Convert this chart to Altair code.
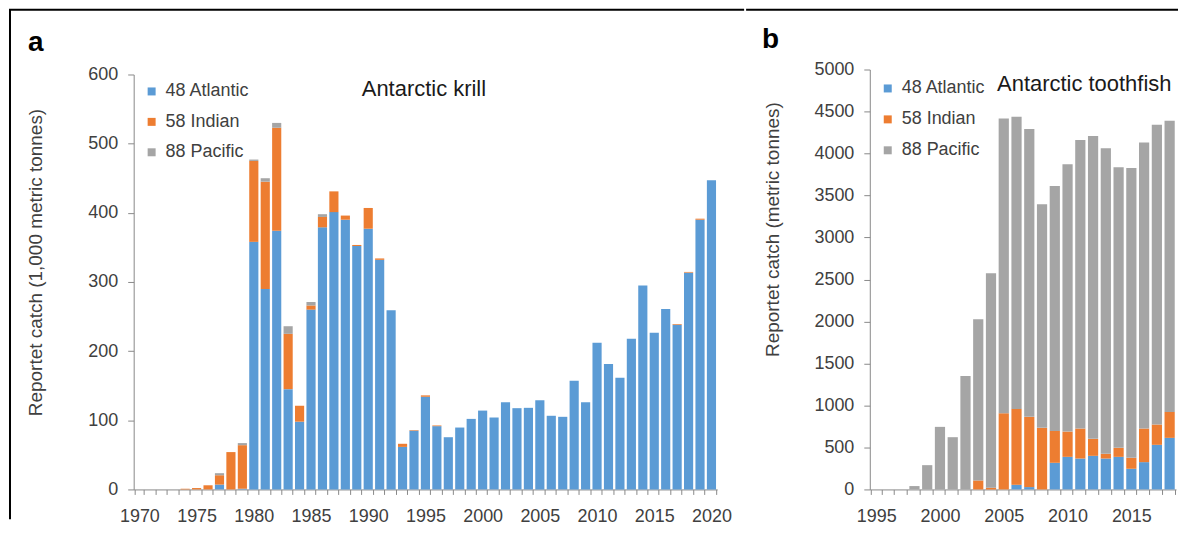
import altair as alt
import pandas as pd

series = ["48 Atlantic", "58 Indian", "88 Pacific"]
colors = ["#5B9BD5", "#ED7D31", "#A5A5A5"]

# Panel a: Antarctic krill (1,000 metric tonnes)
years_a = list(range(1970, 2021))
krill_atl = [0, 0, 0, 0, 0, 0, 0, 7, 0, 1,
             358, 290, 374, 145, 98, 260, 379, 401, 390, 352,
             377, 332, 259, 61.5, 85, 134, 91.5, 75.5, 89.5, 102,
             114, 104, 126, 117.5, 118, 129, 106.5, 105, 157, 126,
             212, 181.5, 161.5, 218, 295, 226.5, 261, 238, 313.5, 390,
             447]
krill_ind = [0, 0, 0, 0, 1, 2, 6, 13.5, 54, 63,
             117, 155, 149, 80, 23, 6, 15, 30, 6, 1.5,
             30, 2, 0, 4.5, 0.8, 2, 1, 0, 0, 0,
             0, 0, 0, 0, 0, 0, 0, 0, 0, 0,
             0, 0, 0, 0, 0, 0, 0, 1, 1, 1.5,
             0]
krill_pac = [0, 0, 0, 0, 0, 0, 0, 3, 0, 3,
             2, 5, 7, 11, 0, 5, 4, 0, 0, 0,
             0, 0, 0, 0, 0, 0, 0, 0, 0, 0,
             0, 0, 0, 0, 0, 0, 0, 0, 0, 0,
             0, 0, 0, 0, 0, 0, 0, 0, 0, 0,
             0]

# Panel b: Antarctic toothfish (metric tonnes)
years_b = list(range(1995, 2019))
tooth_atl = [0, 0, 0, 0, 0, 0, 0, 0, 0, 0,
             0, 55, 28, 0, 317, 388, 368, 400, 368, 388,
             246, 325, 531, 614]
tooth_ind = [0, 0, 0, 0, 0, 0, 0, 0, 107, 20,
             907, 904, 836, 733, 380, 301, 357, 202, 56, 107,
             130, 400, 242, 309]
tooth_pac = [0, 0, 0, 40, 289, 745, 622, 1351, 1918, 2555,
             3511, 3478, 3427, 2662, 2916, 3182, 3435, 3606, 3637, 3340,
             3451, 3407, 3569, 3467]

FONT = "Liberation Sans"
LABEL_COLOR = "#404040"
AXIS_COLOR = "#898989"


def long_table(years, cols):
    rows = []
    for i, y in enumerate(years):
        for k, (name, vals) in enumerate(zip(series, cols)):
            rows.append({"year": y, "region": name, "ord": k, "value": vals[i]})
    return pd.DataFrame(rows)


def panel(df, ymax, ystep, width, height, top_gap, ytitle, title_pos, legend_pos,
          row_pad, name, name_pos, title_text, text_pos, frame):
    bars = alt.Chart(df).mark_bar().encode(
        x=alt.X("year:O",
                scale=alt.Scale(paddingInner=0.2, paddingOuter=0.1),
                axis=alt.Axis(title=None, labelAngle=0,
                              labelExpr="datum.value % 5 == 0 ? datum.label : ''",
                              labelOverlap=False, tickBand="extent",
                              tickSize=5, labelPadding=13, labelFontSize=18,
                              labelColor=LABEL_COLOR, domainColor=AXIS_COLOR,
                              tickColor=AXIS_COLOR, labelFont=FONT)),
        y=alt.Y("value:Q", stack="zero",
                scale=alt.Scale(domain=[0, ymax], nice=False,
                                range=[height, top_gap]),
                axis=alt.Axis(values=list(range(0, ymax + 1, ystep)), grid=False,
                              format="d",
                              title=ytitle, titleX=title_pos[0], titleY=title_pos[1],
                              titleAngle=270, titleAlign="center",
                              titleBaseline="middle", titleFontSize=19,
                              titleFontWeight="normal", titleColor=LABEL_COLOR,
                              titleFont=FONT,
                              tickSize=6, labelPadding=10, labelFontSize=18,
                              labelColor=LABEL_COLOR, domainColor=AXIS_COLOR,
                              tickColor=AXIS_COLOR, labelFont=FONT)),
        color=alt.Color("region:N",
                        scale=alt.Scale(domain=series, range=colors),
                        legend=alt.Legend(title=None, orient="none",
                                          legendX=legend_pos[0], legendY=legend_pos[1],
                                          symbolType="square", symbolSize=64,
                                          symbolStrokeWidth=0,
                                          labelFontSize=18, labelColor=LABEL_COLOR,
                                          labelFont=FONT, rowPadding=row_pad,
                                          labelOffset=5, padding=0)),
        order=alt.Order("ord:Q", sort="ascending"),
    )
    one = pd.DataFrame({"t": [title_text]})
    title = alt.Chart(one).mark_text(
        font=FONT, fontSize=22, color="#1a1a1a", align="center", baseline="alphabetic"
    ).encode(text="t:N", x=alt.value(text_pos[0]), y=alt.value(text_pos[1]))
    lab = alt.Chart(pd.DataFrame({"t": [name]})).mark_text(
        font=FONT, fontSize=28, fontWeight="bold", color="#000000",
        align="left", baseline="alphabetic"
    ).encode(text="t:N", x=alt.value(name_pos[0]), y=alt.value(name_pos[1]))
    layers = [bars, title, lab]
    for (x1, x2, y1, y2) in frame:
        if y1 == y2:
            r = alt.Chart(one).mark_rule(color="#000000", strokeWidth=2).encode(
                x=alt.value(x1), x2=alt.value(x2), y=alt.value(y1))
        else:
            r = alt.Chart(one).mark_rule(color="#000000", strokeWidth=2).encode(
                x=alt.value(x1), y=alt.value(y1), y2=alt.value(y2))
        layers.append(r)
    return alt.layer(*layers).properties(width=width, height=height)


df_a = long_table(years_a, [krill_atl, krill_ind, krill_pac])
df_b = long_table(years_b, [tooth_atl, tooth_ind, tooth_pac])

chart_a = panel(df_a, 600, 100, 585, 421, 5,
                "Reportet catch (1,000 metric tonnes)", (-98, 193), (9, 13), 12.5,
                "a", (-106, -19), "Antarctic krill", (291, 27),
                [(-125, 612, -60, -60), (-124, -124, -60, 451)])
chart_b = panel(df_b, 5000, 500, 307, 421, 0,
                "Reportet catch (metric tonnes)", (-98, 160), (9, 10), 13,
                "b", (-108, -22), "Antarctic toothfish", (215, 22),
                [(-124, 309, -60, -60)])

chart = alt.hconcat(chart_a, chart_b, spacing=0).resolve_scale(
    x="independent", y="independent", color="independent"
).resolve_legend(color="independent").properties(padding=0).configure(
    font=FONT
).configure_view(stroke=None)

chart.save("out.html", embed_options={"renderer": "svg", "actions": False})
